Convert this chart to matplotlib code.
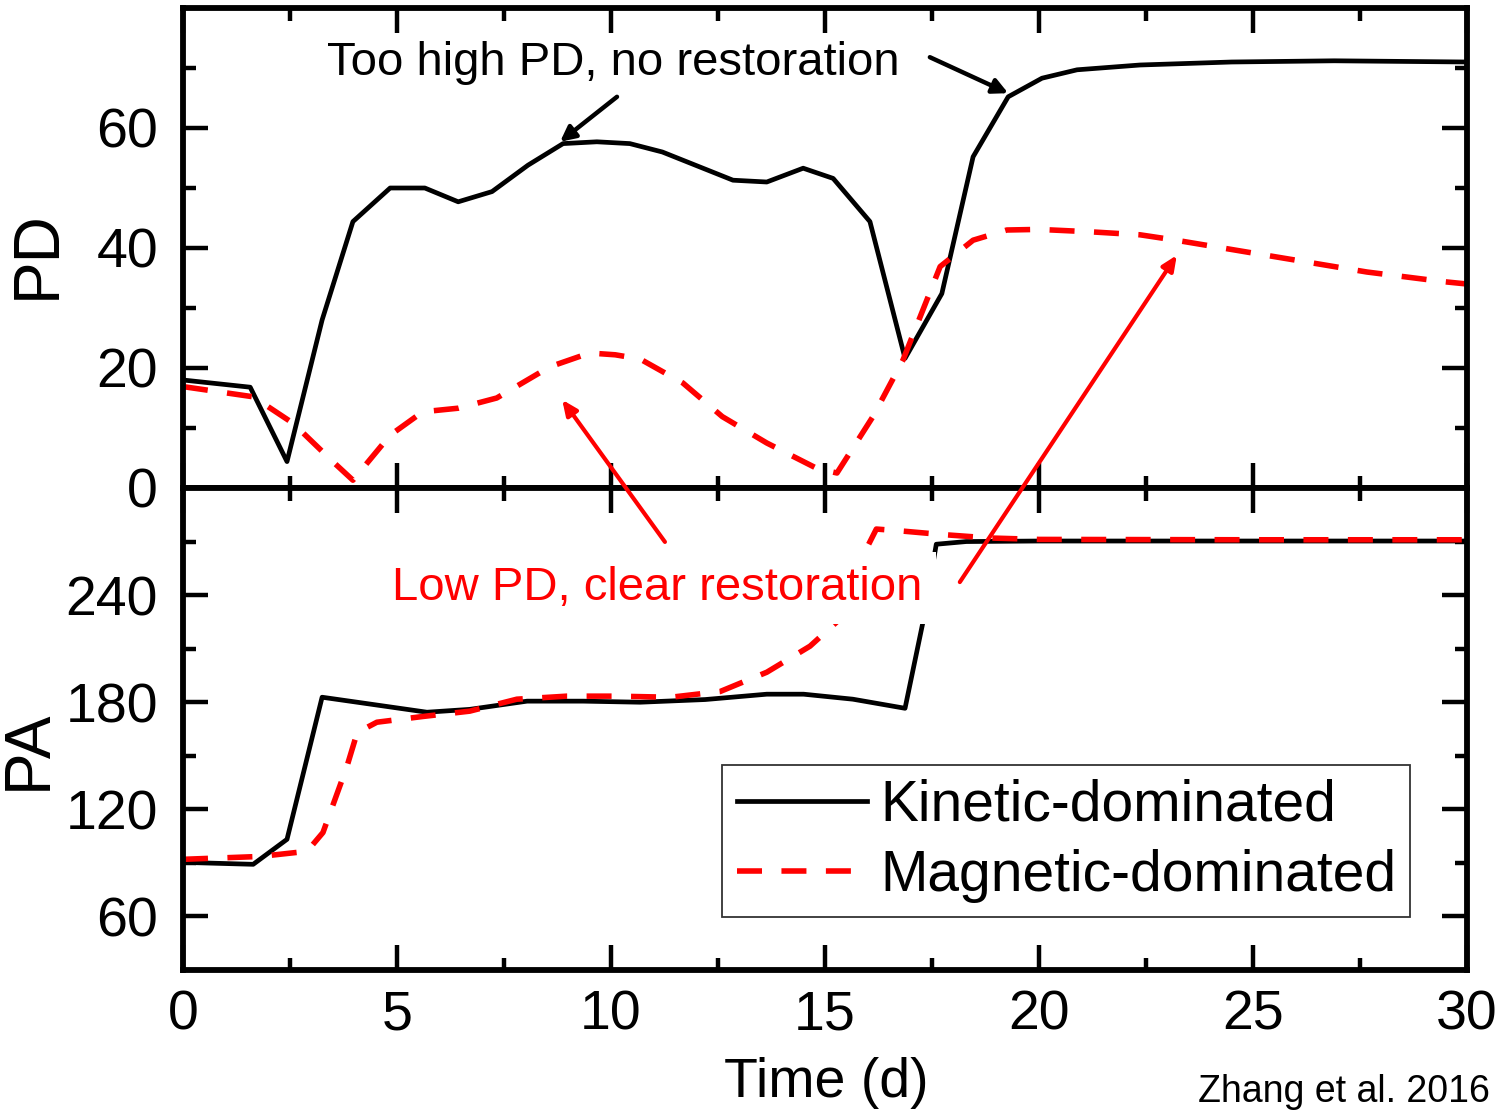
import numpy as np
import matplotlib
matplotlib.use("Agg")
import matplotlib.pyplot as plt

plt.rcParams["font.family"] = ["Liberation Sans", "DejaVu Sans"]
plt.rcParams["lines.scale_dashes"] = False

# PD (top panel)
pd_kin_t = [0, 1.57, 2.43, 3.25, 3.97, 4.84, 5.65, 6.43, 7.22, 8.06, 8.88, 9.67,
            10.44, 11.2, 12.85, 13.64, 14.49, 15.19, 16.05, 16.87, 17.73, 18.46,
            19.28, 20.07, 20.89, 22.36, 24.5, 26.9, 30]
pd_kin = [18, 16.8, 4.4, 28, 44.4, 50, 50, 47.7, 49.4, 53.8, 57.4, 57.7,
          57.4, 56, 51.3, 51, 53.3, 51.6, 44.4, 21.6, 32.4, 55.2,
          65.2, 68.3, 69.7, 70.5, 71, 71.2, 71]

pd_mag_t = [0, 1.64, 2.57, 3.5, 3.97, 4.84, 5.6, 6.43, 7.33, 8.57, 9.5, 10.1,
            10.68, 11.68, 12.6, 13.64, 14.8, 15.28, 16.12, 16.82, 17.69, 18.46,
            19.25, 20.0, 21.2, 22.36, 23.2, 25.3, 27.66, 29.44, 30]
pd_mag = [16.9, 15.2, 10.8, 4.4, 1.3, 8.8, 12.7, 13.3, 15, 20.2, 22.5, 22.2,
          21.5, 17.5, 11.9, 7.5, 3.3, 2.5, 11.9, 21.3, 36.9, 41.3,
          43, 43.1, 42.7, 42.2, 41.3, 38.8, 36, 34.4, 34]

# PA (bottom panel)
pa_kin_t = [0, 1.64, 2.43, 3.25, 4.07, 5.7, 6.7, 8.04, 9.35, 10.68, 12.2, 13.64,
            14.5, 15.65, 16.87, 17.29, 17.6, 18.3, 20, 25, 30]
pa_kin = [90.3, 89.2, 103.2, 182.8, 180, 174.4, 176, 180.6, 180.6, 180, 181.5, 184.5,
          184.5, 181.7, 176.6, 225, 268.5, 270, 270.3, 270.3, 270.3]

pa_mag_t = [0, 1.8, 2.9, 3.27, 3.83, 4.07, 4.53, 5.6, 6.7, 7.8, 8.97, 10.1,
            11.4, 12.55, 13.64, 14.65, 15.35, 15.8, 16.2, 16.75, 17.7, 18.85,
            20, 25, 30]
pa_mag = [92, 93.6, 96.5, 107, 144, 163, 168.8, 172, 175, 181.7, 183.4, 183.4,
          182.8, 186, 196.8, 211.4, 226.6, 258, 277, 276, 274, 272,
          271.2, 271, 271]

TICK_FS = 40
SPINE_W = 4.2
RED = "#ff0000"

fig = plt.figure(figsize=(15.01, 11.14), dpi=100)
ax_top = fig.add_axes([183 / 1501, 1 - 488 / 1114, 1284 / 1501, 480 / 1114])
ax_bot = fig.add_axes([183 / 1501, 1 - 970 / 1114, 1284 / 1501, 482 / 1114])

for ax in (ax_top, ax_bot):
    for sp in ax.spines.values():
        sp.set_linewidth(SPINE_W)
    ax.set_xlim(0, 30)
    ax.set_xticks(np.arange(0, 31, 5))
    ax.set_xticks(np.arange(2.5, 30, 5), minor=True)
    ax.tick_params(which="both", direction="in", top=True, right=True,
                   width=3.2, labelsize=TICK_FS)
    ax.tick_params(which="major", length=18)
    ax.tick_params(which="minor", length=9)
    ax.tick_params(axis="y", pad=18)
    ax.tick_params(axis="x", pad=14)

ax_top.plot(pd_kin_t, pd_kin, color="black", lw=3.4, solid_joinstyle="round")
ax_top.plot(pd_mag_t, pd_mag, color=RED, lw=4.0, dashes=(18, 14))
ax_top.set_ylim(0, 80)
ax_top.set_yticks([0, 20, 40, 60])
ax_top.set_yticks([10, 30, 50, 70], minor=True)
ax_top.tick_params(axis="x", labelbottom=False)

ax_bot.plot(pa_kin_t, pa_kin, color="black", lw=3.4, label="Kinetic-dominated")
ax_bot.plot(pa_mag_t, pa_mag, color=RED, lw=4.0, dashes=(18, 14),
            label="Magnetic-dominated")
ax_bot.set_ylim(30, 300)
ax_bot.set_yticks([60, 120, 180, 240])
ax_bot.set_yticks([90, 150, 210, 270], minor=True)

leg = ax_bot.legend(loc="lower left", bbox_to_anchor=(0.42, 0.11), fontsize=41,
                    frameon=True, fancybox=False, edgecolor="black",
                    handlelength=2.3, handletextpad=0.22, labelspacing=0.28,
                    borderpad=0.25, borderaxespad=0)
leg.get_frame().set_linewidth(1.3)

# black annotation
ax_top.text(10.05, 68.8, "Too high PD, no restoration", fontsize=34,
            ha="center", va="baseline")
black_arrow = dict(arrowstyle="-|>,head_length=0.9,head_width=0.45",
                   color="black", lw=3.2, shrinkA=0, shrinkB=0)
ax_top.annotate("", xy=(8.81, 57.7), xytext=(10.14, 65.2), arrowprops=black_arrow)
ax_top.annotate("", xy=(19.28, 65.8), xytext=(17.45, 71.8), arrowprops=black_arrow)

# red annotation (drawn from the lower axes so it sits on top of both panels)
ax_bot.text(4.88, 237.2, "Low PD, clear restoration", fontsize=34, color=RED,
            ha="left", va="baseline", zorder=10,
            bbox=dict(boxstyle="square,pad=0.3", facecolor="white", edgecolor="none"))
red_arrow = dict(arrowstyle="-|>,head_length=0.9,head_width=0.4",
                 color=RED, lw=3.0, shrinkA=0, shrinkB=0)
ax_bot.annotate("", xy=(8.86, 14.7), xycoords=ax_top.transData,
                xytext=(11.26, 269.8), textcoords="data",
                annotation_clip=False, arrowprops=red_arrow)
ax_bot.annotate("", xy=(23.22, 38.8), xycoords=ax_top.transData,
                xytext=(18.15, 247.3), textcoords="data",
                annotation_clip=False, arrowprops=red_arrow)

fig.text(37.5 / 1501, 1 - 255 / 1114, "PD", rotation=90, fontsize=46,
         ha="center", va="center")
fig.text(29 / 1501, 1 - 750 / 1114, "PA", rotation=90, fontsize=46,
         ha="center", va="center")
fig.text(826 / 1501, 1 - 1083 / 1114, "Time (d)", fontsize=40,
         ha="center", va="center")
fig.text(1490 / 1501, 1 - 1092 / 1114, "Zhang et al. 2016", fontsize=27,
         ha="right", va="center")

plt.savefig("out.png", dpi=100)
plt.close()
